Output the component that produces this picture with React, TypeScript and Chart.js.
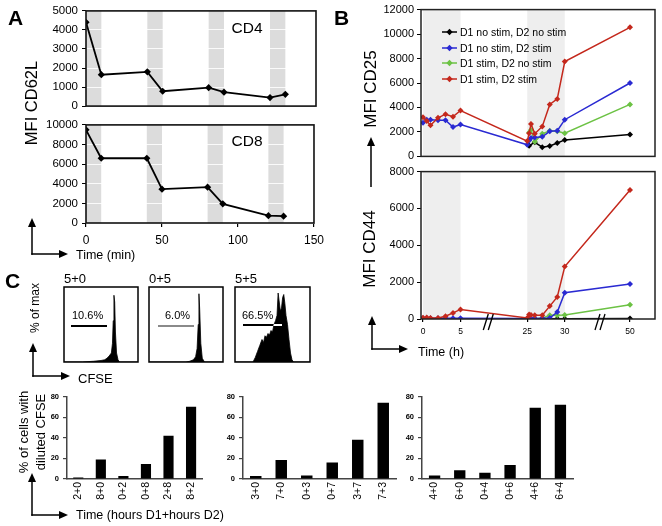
import React, { useEffect, useRef } from "react";
import { Chart, registerables } from "chart.js";

Chart.register(...registerables);

const FONT = "'Liberation Sans', Arial, Helvetica, sans-serif";
Chart.defaults.font.family = FONT;
Chart.defaults.color = "#000";

// ---------------- Panel A data ----------------
const timesA = [0, 10, 40, 50, 80, 90, 120, 130];
const cd4Mfi = [4400, 1650, 1800, 780, 970, 730, 450, 620];
const cd8Mfi = [9500, 6600, 6600, 3450, 3650, 1950, 750, 700];
const stimBandsA = [[0, 10], [40, 50], [80, 90], [120, 130]];

// ---------------- Panel B data ----------------
const hoursB = [0, 0.5, 1, 2, 3, 4, 5, 25, 25.25, 25.5, 26, 27, 28, 29, 30, 50];
const N = null;
const cd25Black = [N, N, N, N, N, N, N, N, 880, N, 1150, 750, 850, 1100, 1350, 1800];
const cd25Blue = [2750, 3000, 3000, 2950, 2950, 2400, 2600, 950, 1300, 1500, 1550, 1600, 2050, 2100, 3000, 6000];
const cd25Green = [N, N, N, N, N, N, N, N, 1950, 2150, 1200, 1850, 2100, 2050, 1900, 4250];
const cd25Red = [3200, 2900, 2550, 3150, 3450, 3250, 3750, 1250, 1900, 2650, 1850, 2450, 4250, 4700, 7750, 10550];
const cd44Black = [N, N, N, N, N, N, N, N, 20, 20, 20, 20, 20, 20, 20, 30];
const cd44Blue = [40, 40, 40, 40, 40, 40, 40, 30, 30, 30, 30, 40, 50, 380, 1430, 1900];
const cd44Green = [N, N, N, N, N, N, N, N, 30, 30, 30, 40, 200, 200, 220, 770];
const cd44Red = [70, 80, 60, 50, 150, 330, 520, 60, 250, 220, 200, 200, 700, 1200, 2850, 7000];
const legendB = ["D1 no stim, D2 no stim", "D1 no stim, D2 stim", "D1 stim, D2 no stim", "D1 stim, D2 stim"];
const colorsB = ["#000000", "#2a2ad2", "#6cc244", "#c4281c"];
const stimBandsB = [[0, 5], [25, 30]];
const tickHoursB = [0, 5, 25, 30, 50];
const breakHoursB = [19.8, 40.8];

// ---------------- Panel C data ----------------
const histTitles = ["5+0", "0+5", "5+5"];
const histGates = ["10.6%", "6.0%", "66.5%"];
const histX1 = [0, 25, 40, 50, 55, 58, 61, 64, 65.5, 66.5, 67.5, 68.5, 69.5, 71, 73, 75, 100];
const histY1 = [0, 0, 1, 2, 3, 5, 8, 12, 25, 55, 89, 80, 40, 12, 3, 0, 0];
const histX2 = [0, 50, 55, 60, 63, 65, 66.5, 67.5, 68.5, 70, 72, 75, 100];
const histY2 = [0, 0, 1, 3, 7, 18, 50, 91, 70, 25, 5, 0, 0];
const histX3 = [0, 24, 27, 30, 33, 36, 38, 40, 42, 44, 46, 48, 50, 52, 54, 56, 57.5, 59, 60.5, 62, 63.5, 65, 66.5, 68, 70, 72, 74, 76, 78, 100];
const histY3 = [0, 0, 6, 14, 22, 30, 26, 35, 33, 38, 36, 42, 40, 50, 55, 62, 92, 80, 68, 72, 86, 90, 78, 62, 50, 30, 12, 3, 0, 0];

const barLabels1 = ["2+0", "8+0", "0+2", "0+8", "2+8", "8+2"];
const barValues1 = [1.5, 19, 3, 14.5, 42, 70];
const barLabels2 = ["3+0", "7+0", "0+3", "0+7", "3+7", "7+3"];
const barValues2 = [3, 18.5, 3.5, 16, 38, 74];
const barLabels3 = ["4+0", "6+0", "0+4", "0+6", "4+6", "6+4"];
const barValues3 = [3.5, 8.5, 6, 13.5, 69, 72];

// ---------------- helpers ----------------
function toAxisB(h: number) {
  if (h <= 5) return h;
  if (h <= 30) return h - 11.1;
  return 18.9 + (h - 30) * 0.435;
}

function pts(xs: number[], ys: (number | null)[], fx: (v: number) => number = (v) => v) {
  return xs.map((x, i) => ({ x: fx(x), y: ys[i] })).filter((p) => p.y !== null);
}

const plainNum = (v: any) => String(v);

function framePlugin(color: string, width: number) {
  return {
    id: "frame",
    afterDraw(chart: any) {
      const { ctx, chartArea: a } = chart;
      ctx.save();
      ctx.strokeStyle = color;
      ctx.lineWidth = width;
      ctx.strokeRect(a.left, a.top, a.right - a.left, a.bottom - a.top);
      ctx.restore();
    },
  };
}

function bandsPlugin(ranges: number[][], color: string, fx: (v: number) => number = (v) => v) {
  return {
    id: "bands",
    beforeDraw(chart: any) {
      const xs = chart.scales.x;
      const a = chart.chartArea;
      const ctx = chart.ctx;
      ctx.save();
      ctx.fillStyle = color;
      for (const [s, e] of ranges) {
        const p0 = xs.getPixelForValue(fx(s));
        const p1 = xs.getPixelForValue(fx(e));
        ctx.fillRect(p0, a.top, p1 - p0, a.bottom - a.top);
      }
      ctx.restore();
    },
  };
}

function breaksPlugin(hours: number[]) {
  return {
    id: "breaks",
    afterDraw(chart: any) {
      const xs = chart.scales.x;
      const b = chart.chartArea.bottom;
      const ctx = chart.ctx;
      ctx.save();
      ctx.strokeStyle = "#000";
      ctx.lineWidth = 1.3;
      for (const h of hours) {
        const cx = xs.getPixelForValue(toAxisB(h));
        for (const k of [-2.5, 2.5]) {
          ctx.beginPath();
          ctx.moveTo(cx + k - 2.5, b + 11);
          ctx.lineTo(cx + k + 2.5, b - 5);
          ctx.stroke();
        }
      }
      ctx.restore();
    },
  };
}

type Box = { x0: number; y0: number; x1: number; y1: number };
type Mg = { l: number; t: number; r: number; b: number };

function PlacedChart({ area, mg, make }: { area: Box; mg: Mg; make: () => any }) {
  const ref = useRef<HTMLCanvasElement | null>(null);
  const w = area.x1 - area.x0 + mg.l + mg.r;
  const h = area.y1 - area.y0 + mg.t + mg.b;
  useEffect(() => {
    const cfg = make();
    const sc = cfg.options.scales;
    const xShown = sc.x.display !== false;
    const yShown = sc.y.display !== false;
    if (xShown) sc.x.afterFit = (s: any) => { s.height = mg.b; };
    if (yShown) sc.y.afterFit = (s: any) => { s.width = mg.l; };
    cfg.options.layout = {
      padding: { left: yShown ? 0 : mg.l, right: mg.r, top: mg.t, bottom: xShown ? 0 : mg.b },
    };
    cfg.options.responsive = false;
    cfg.options.maintainAspectRatio = false;
    cfg.options.animation = false;
    cfg.options.events = [];
    cfg.options.plugins = { legend: { display: false }, tooltip: { enabled: false } };
    const chart = new Chart(ref.current as HTMLCanvasElement, cfg);
    return () => chart.destroy();
  }, []);
  return (
    <canvas
      ref={ref}
      width={w}
      height={h}
      style={{ position: "absolute", left: area.x0 - mg.l, top: area.y0 - mg.t, width: w, height: h }}
    />
  );
}

// ---------------- chart configs ----------------
function panelAConfig(values: number[], yMax: number, yStep: number, showX: boolean) {
  return {
    type: "line",
    data: {
      datasets: [
        {
          data: pts(timesA, values),
          borderColor: "#000",
          backgroundColor: "#000",
          borderWidth: 1.8,
          pointStyle: "rectRot",
          pointRadius: 3.6,
          pointBorderWidth: 0,
          tension: 0,
        },
      ],
    },
    options: {
      scales: {
        x: {
          type: "linear",
          min: 0,
          max: 150,
          display: showX,
          grid: { drawOnChartArea: false, tickLength: 4, color: "#000", lineWidth: 1.2 },
          border: { display: false },
          ticks: { stepSize: 50, padding: 6, font: { size: 12 }, maxRotation: 0, callback: plainNum },
        },
        y: {
          min: 0,
          max: yMax,
          grid: { color: "rgba(255,255,255,0.85)", tickColor: "#000", tickLength: 4, lineWidth: 1 },
          border: { display: false },
          ticks: { stepSize: yStep, padding: 4, font: { size: 11.5 }, callback: plainNum },
        },
      },
    },
    plugins: [bandsPlugin(stimBandsA, "#dcdcdc"), framePlugin("#111", 1.6)],
  };
}

function panelBConfig(series: (number | null)[][], yMax: number, showX: boolean) {
  const order = [3, 1, 2, 0];
  const datasets = order.map((i) => ({
    data: pts(hoursB, series[i], toAxisB),
    borderColor: colorsB[i],
    backgroundColor: colorsB[i],
    borderWidth: 1.5,
    pointStyle: "rectRot",
    pointRadius: 3,
    pointBorderWidth: 0,
    tension: 0,
    spanGaps: true,
  }));
  const plugins: any[] = [bandsPlugin(stimBandsB, "#eeeeee", toAxisB), framePlugin("#222", 1.5)];
  if (showX) plugins.push(breaksPlugin(breakHoursB));
  return {
    type: "line",
    data: { datasets },
    options: {
      scales: {
        x: {
          type: "linear",
          min: -0.27,
          max: 30.93,
          display: showX,
          afterBuildTicks: (s: any) => {
            s.ticks = tickHoursB.map((h) => ({ value: toAxisB(h) }));
          },
          grid: { drawOnChartArea: false, tickLength: 3, color: "#000", lineWidth: 1.2 },
          border: { display: false },
          ticks: {
            autoSkip: false,
            maxRotation: 0,
            padding: 5,
            font: { size: 8.5 },
            callback: (_v: any, i: number) => String(tickHoursB[i]),
          },
        },
        y: {
          min: 0,
          max: yMax,
          grid: { drawOnChartArea: false, tickLength: 4, color: "#000", lineWidth: 1 },
          border: { display: false },
          ticks: { stepSize: 2000, padding: 3, font: { size: 11 }, callback: plainNum },
        },
      },
    },
    plugins,
  };
}

function histConfig(xs: number[], ys: number[]) {
  return {
    type: "line",
    data: {
      datasets: [
        {
          data: pts(xs, ys),
          borderColor: "#000",
          backgroundColor: "#000",
          borderWidth: 0.8,
          pointRadius: 0,
          fill: "origin",
          tension: 0,
        },
      ],
    },
    options: {
      scales: {
        x: { type: "linear", min: 0, max: 100, display: false },
        y: { min: 0, max: 100, display: false },
      },
    },
    plugins: [framePlugin("#000", 1.5)],
  };
}

function barConfig(labels: string[], values: number[]) {
  return {
    type: "bar",
    data: {
      labels,
      datasets: [
        { data: values, backgroundColor: "#000", borderWidth: 0, barPercentage: 0.45, categoryPercentage: 1 },
      ],
    },
    options: {
      scales: {
        x: {
          grid: { display: false, drawTicks: false },
          border: { display: true, color: "#444", width: 1.5 },
          ticks: { minRotation: 90, maxRotation: 90, autoSkip: false, padding: 3, font: { size: 10.5 } },
        },
        y: {
          min: 0,
          max: 80,
          grid: { drawOnChartArea: false, drawTicks: true, tickLength: 4, color: "#444", lineWidth: 1.2 },
          border: { display: true, color: "#444", width: 1.5 },
          ticks: { stepSize: 20, padding: 4, font: { size: 7.5, weight: "bold" }, callback: plainNum },
        },
      },
    },
    plugins: [],
  };
}

// ---------------- overlay pieces ----------------
function Txt({ x, y, size, children, bold, anchor = "start", color = "#000" }: any) {
  const tx = anchor === "middle" ? "-50%" : anchor === "end" ? "-100%" : "0";
  return (
    <div
      style={{
        position: "absolute",
        left: x,
        top: y,
        fontSize: size,
        lineHeight: 1,
        fontWeight: bold ? "bold" : "normal",
        color,
        whiteSpace: "nowrap",
        transform: `translate(${tx}, -50%)`,
      }}
    >
      {children}
    </div>
  );
}

function VTxt({ x, y, size, children }: any) {
  return (
    <div
      style={{
        position: "absolute",
        left: x,
        top: y,
        fontSize: size,
        lineHeight: 1,
        whiteSpace: "nowrap",
        transform: "translate(-50%, -50%) rotate(-90deg)",
      }}
    >
      {children}
    </div>
  );
}

function Arrow({ x1, y1, x2, y2 }: any) {
  const dx = x2 - x1;
  const dy = y2 - y1;
  const L = Math.hypot(dx, dy);
  const ux = dx / L;
  const uy = dy / L;
  const hl = 9;
  const hw = 4;
  const bx = x2 - ux * hl;
  const by = y2 - uy * hl;
  const px = -uy;
  const py = ux;
  return (
    <g>
      <line x1={x1} y1={y1} x2={bx + ux} y2={by + uy} stroke="#000" strokeWidth={1.5} />
      <polygon points={`${x2},${y2} ${bx + px * hw},${by + py * hw} ${bx - px * hw},${by - py * hw}`} fill="#000" />
    </g>
  );
}

function LAxes({ x, y, top, right }: any) {
  return (
    <g>
      <Arrow x1={x} y1={y + 0.75} x2={x} y2={top} />
      <Arrow x1={x - 0.75} y1={y} x2={right} y2={y} />
    </g>
  );
}

function LegendItem({ y, color, label }: any) {
  return (
    <>
      <svg style={{ position: "absolute", left: 441, top: y - 5, width: 18, height: 10 }} width={18} height={10}>
        <line x1={1} y1={5} x2={16} y2={5} stroke={color} strokeWidth={1.5} />
        <polygon points="8.5,1.8 11.7,5 8.5,8.2 5.3,5" fill={color} />
      </svg>
      <Txt x={460} y={y} size={10.5}>
        {label}
      </Txt>
    </>
  );
}

const histAreas: Box[] = [
  { x0: 64, y0: 287, x1: 138, y1: 362 },
  { x0: 149, y0: 287, x1: 223, y1: 362 },
  { x0: 235, y0: 287, x1: 310, y1: 362 },
];
const histMg: Mg = { l: 2, t: 2, r: 2, b: 2 };
const barMg: Mg = { l: 24, t: 6, r: 4, b: 28 };

export default function App() {
  const histData = [
    [histX1, histY1],
    [histX2, histY2],
    [histX3, histY3],
  ];
  const gateLines = [
    { x: 71, w: 36, y: 326, blend: true, color: "#fff" },
    { x: 158, w: 36, y: 326, blend: false, color: "#8a8a8a" },
    { x: 243, w: 39, y: 325, blend: true, color: "#fff" },
  ];
  const gateTextX = [72, 165, 242];
  return (
    <div
      style={{
        position: "absolute",
        left: 0,
        top: 0,
        width: 662,
        height: 526,
        background: "#fff",
        overflow: "hidden",
        fontFamily: FONT,
        color: "#000",
      }}
    >
      {/* Panel A */}
      <PlacedChart
        area={{ x0: 86, y0: 9, x1: 316, y1: 109 }}
        mg={{ l: 44, t: 9, r: 8, b: 8 }}
        make={() => panelAConfig(cd4Mfi, 5000, 1000, false)}
      />
      <PlacedChart
        area={{ x0: 86, y0: 122, x1: 316, y1: 223 }}
        mg={{ l: 44, t: 8, r: 14, b: 26 }}
        make={() => panelAConfig(cd8Mfi, 10000, 2000, true)}
      />

      {/* Panel B */}
      <PlacedChart
        area={{ x0: 421, y0: 8, x1: 655, y1: 158 }}
        mg={{ l: 46, t: 8, r: 4, b: 8 }}
        make={() => panelBConfig([cd25Black, cd25Blue, cd25Green, cd25Red], 12000, false)}
      />
      <PlacedChart
        area={{ x0: 421, y0: 170, x1: 655, y1: 319 }}
        mg={{ l: 46, t: 8, r: 4, b: 20 }}
        make={() => panelBConfig([cd44Black, cd44Blue, cd44Green, cd44Red], 8000, true)}
      />

      {/* Panel C histograms */}
      {histAreas.map((a, i) => (
        <PlacedChart key={"h" + i} area={a} mg={histMg} make={() => histConfig(histData[i][0], histData[i][1])} />
      ))}

      {/* Panel C bar charts */}
      <PlacedChart area={{ x0: 67, y0: 394, x1: 203, y1: 479 }} mg={barMg} make={() => barConfig(barLabels1, barValues1)} />
      <PlacedChart area={{ x0: 243, y0: 394, x1: 396, y1: 479 }} mg={barMg} make={() => barConfig(barLabels2, barValues2)} />
      <PlacedChart area={{ x0: 422, y0: 394, x1: 573, y1: 479 }} mg={barMg} make={() => barConfig(barLabels3, barValues3)} />

      {/* gate lines */}
      {gateLines.map((g, i) => (
        <div
          key={"g" + i}
          style={{
            position: "absolute",
            left: g.x,
            top: g.y - 0.75,
            width: g.w,
            height: 1.5,
            background: g.color,
            mixBlendMode: g.blend ? "difference" : "normal",
          }}
        />
      ))}

      {/* arrows */}
      <svg style={{ position: "absolute", left: 0, top: 0 }} width={662} height={526}>
        <LAxes x={32} y={254} top={218} right={68} />
        <Arrow x1={371} y1={187} x2={371} y2={137} />
        <LAxes x={372} y={349} top={316} right={408} />
        <LAxes x={33} y={376} top={343} right={70} />
        <LAxes x={32} y={515} top={473} right={68} />
      </svg>

      {/* texts */}
      <Txt x={8} y={17} size={21} bold>A</Txt>
      <Txt x={334} y={17} size={21} bold>B</Txt>
      <Txt x={5} y={280} size={21} bold>C</Txt>

      <Txt x={247} y={28} size={15.5} anchor="middle">CD4</Txt>
      <Txt x={247} y={141} size={15.5} anchor="middle">CD8</Txt>
      <VTxt x={31} y={103} size={16.5}>MFI CD62L</VTxt>
      <Txt x={76} y={255} size={12.5}>Time (min)</Txt>

      <VTxt x={370} y={89} size={17}>MFI CD25</VTxt>
      <VTxt x={369} y={249} size={17}>MFI CD44</VTxt>
      <Txt x={418} y={352} size={12.5}>Time (h)</Txt>
      {legendB.map((lab, i) => (
        <LegendItem key={lab} y={[32.3, 47.7, 63.3, 79][i]} color={colorsB[i]} label={lab} />
      ))}

      {histTitles.map((t, i) => (
        <Txt key={t} x={histAreas[i].x0} y={278} size={13}>{t}</Txt>
      ))}
      {histGates.map((t, i) => (
        <Txt key={t} x={gateTextX[i]} y={315} size={11}>{t}</Txt>
      ))}
      <VTxt x={35} y={308} size={12}>% of max</VTxt>
      <Txt x={78} y={378} size={13}>CFSE</Txt>

      <VTxt x={23} y={432} size={13}>% of cells with</VTxt>
      <VTxt x={40} y={432} size={13}>diluted CFSE</VTxt>
      <Txt x={76} y={515} size={12.5}>Time (hours D1+hours D2)</Txt>
    </div>
  );
}
